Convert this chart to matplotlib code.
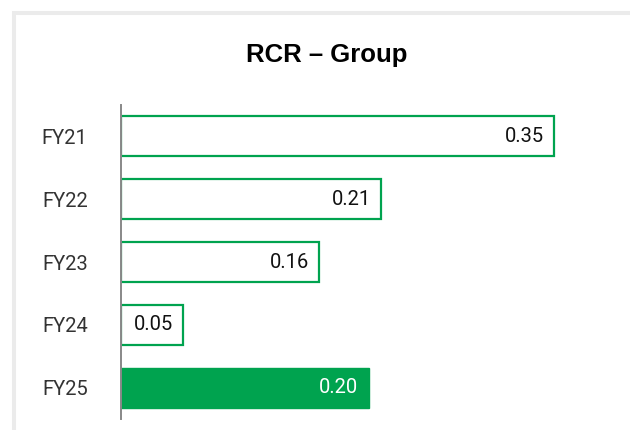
import matplotlib.pyplot as plt
from matplotlib.patches import Rectangle

# RCR by fiscal year, group level
years = ["FY21", "FY22", "FY23", "FY24", "FY25"]
rcr = [0.35, 0.21, 0.16, 0.05, 0.20]
current = "FY25"

green = "#00a34f"

fig = plt.figure(figsize=(6.3, 4.3), dpi=100)
fig.patch.set_facecolor("white")

# light grey panel frame (only top and left edges fall inside the image)
fig.patches.append(Rectangle((14 / 630, -0.2), 1.2, 1.2 - 13 / 430,
                             transform=fig.transFigure, fill=False,
                             edgecolor="#ebebeb", linewidth=2.9, zorder=0))

ax = fig.add_axes([121 / 630, 11 / 430, 495 / 630, 314 / 430])

pos = list(range(len(years)))
for i, (yr, v) in enumerate(zip(years, rcr)):
    if yr == current:
        ax.barh(i, v, height=0.64, color=green, edgecolor=green, linewidth=1.0, zorder=2)
        tc = "white"
    else:
        ax.barh(i, v, height=0.64, color="white", edgecolor=green, linewidth=1.6, zorder=2)
        tc = "#111111"
    ax.annotate(f"{v:.2f}", xy=(v, i), xytext=(-10, 0), textcoords="offset pixels",
                ha="right", va="center", fontsize=14.5, color=tc,
                family=["Roboto", "DejaVu Sans"], zorder=3)

ax.set_xlim(0, 0.4)
ax.set_ylim(len(years) - 0.5, -0.5)
ax.set_yticks(pos)
ax.set_yticklabels(years, family=["Roboto", "DejaVu Sans"], fontsize=14.5, color="#333333")
ax.tick_params(axis="y", length=0, pad=24)
ax.set_xticks([])

for s in ["top", "right", "bottom"]:
    ax.spines[s].set_visible(False)
ax.spines["left"].set_color("#888888")
ax.spines["left"].set_linewidth(1.4)
ax.spines["left"].set_zorder(4)

fig.text(327 / 630, 1 - 55 / 430, "RCR – Group", ha="center", va="center",
         fontsize=18.5, fontweight="bold", family=["Liberation Sans", "DejaVu Sans"])

fig.savefig("out.png", dpi=100)
